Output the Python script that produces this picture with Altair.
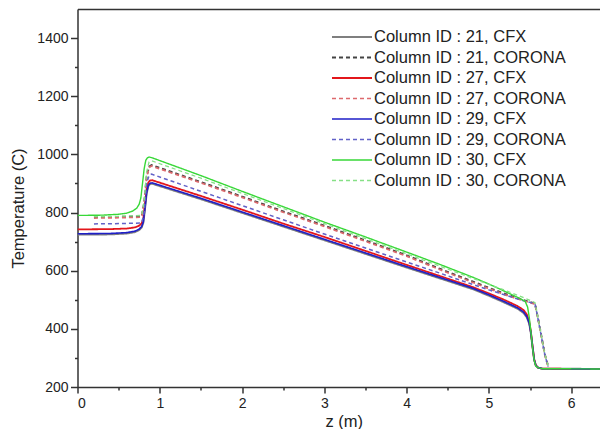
import altair as alt
import pandas as pd

FONT = "Liberation Sans"

series_names = [
    "Column ID : 21, CFX",
    "Column ID : 21, CORONA",
    "Column ID : 27, CFX",
    "Column ID : 27, CORONA",
    "Column ID : 29, CFX",
    "Column ID : 29, CORONA",
    "Column ID : 30, CFX",
    "Column ID : 30, CORONA",
]
series_colors = ["#7f7f7f", "#444444", "#e3161b", "#dd6a6d",
                 "#1f1fc8", "#6262c8", "#38d838", "#86e086"]
series_dash = [[1, 0], [4, 3], [1, 0], [4, 3], [1, 0], [4, 3], [1, 0], [4, 3]]
series_width = [2, 1.3, 2, 1.3, 2, 1.3, 2, 1.3]

# CFX z positions (m)
z_cfx = [0, 0.4, 0.6, 0.7, 0.75, 0.78, 0.8, 0.82, 0.84, 0.86, 0.88, 0.91,
         1.5, 2.0, 2.5, 3.0, 3.5, 4.0, 4.4, 4.8, 5.0, 5.2, 5.35, 5.42,
         5.46, 5.49, 5.51, 5.53, 5.55, 5.57, 5.6, 5.65, 6.35]
t_21_cfx = [724, 725, 728, 733, 740, 749, 765, 812, 865, 890, 898, 899,
            846, 799, 752, 705, 658, 611, 574, 537, 514, 489, 469, 455,
            440, 418, 385, 338, 294, 274, 266, 263, 262]
t_27_cfx = [742, 743, 745, 749, 755, 763, 780, 830, 880, 903, 910, 911,
            857, 810, 762, 716, 668, 620, 582, 544, 522, 498, 478, 465,
            450, 425, 390, 340, 295, 275, 266, 263, 262]
t_29_cfx = [727, 728, 731, 736, 743, 752, 768, 815, 868, 893, 901, 902,
            849, 802, 755, 708, 661, 614, 577, 540, 517, 492, 472, 458,
            443, 420, 387, 339, 294, 274, 266, 263, 262]

z_30_cfx = [0, 0.3, 0.5, 0.6, 0.67, 0.72, 0.75, 0.77, 0.79, 0.81, 0.83, 0.85,
            0.87, 0.9, 1.5, 2.0, 2.5, 3.0, 3.5, 4.0, 4.4, 4.8, 5.0, 5.2,
            5.35, 5.44, 5.47, 5.49, 5.51, 5.53, 5.55, 5.57, 5.6, 5.65, 6.35]
t_30_cfx = [790, 791, 794, 798, 805, 815, 829, 850, 900, 950, 980, 988,
            991, 989, 927, 873, 820, 767, 716, 664, 622, 578, 554, 528,
            508, 495, 475, 440, 390, 335, 292, 272, 266, 263, 262]

# CORONA z positions (m)
z_cor = [0.2, 0.5, 0.78, 0.81, 0.84, 0.87, 0.9, 1.5, 2.0, 2.5, 3.0, 3.5,
         4.0, 4.4, 4.8, 5.0, 5.2, 5.4, 5.5, 5.56, 5.6, 5.64, 5.68, 5.72]
t_21_cor = [784, 785, 787, 833, 923, 958, 963, 905, 855, 804, 755, 704,
            653, 607, 563, 541, 520, 501, 492, 487, 432, 372, 312, 272]
t_27_cor = [781, 782, 784, 830, 920, 955, 960, 902, 852, 801, 752, 701,
            650, 604, 560, 538, 517, 498, 490, 485, 430, 370, 310, 270]
t_29_cor = [761, 762, 764, 800, 900, 928, 932, 873, 824, 775, 726, 678,
            630, 592, 553, 534, 516, 498, 491, 486, 430, 370, 310, 270]
t_30_cor = [786, 787, 790, 840, 940, 974, 978, 918, 866, 814, 762, 710,
            658, 616, 574, 553, 532, 510, 498, 490, 432, 372, 312, 272]

x_major = [0, 1, 2, 3, 4, 5, 6]
x_minor = [0.5, 1.5, 2.5, 3.5, 4.5, 5.5]
y_major = [200, 400, 600, 800, 1000, 1200, 1400]
y_minor = [300, 500, 700, 900, 1100, 1300]

curves = [
    (series_names[0], z_cfx, t_21_cfx),
    (series_names[1], z_cor, t_21_cor),
    (series_names[2], z_cfx, t_27_cfx),
    (series_names[3], z_cor, t_27_cor),
    (series_names[4], z_cfx, t_29_cfx),
    (series_names[5], z_cor, t_29_cor),
    (series_names[6], z_30_cfx, t_30_cfx),
    (series_names[7], z_cor, t_30_cor),
]
rows = []
for name, zs, ts in curves:
    for z, t in zip(zs, ts):
        rows.append({"z": z, "T": t, "series": name})
df = pd.DataFrame(rows)

xscale = alt.Scale(domain=[0, 6.35], nice=False, zero=False)
yscale = alt.Scale(domain=[200, 1500], nice=False, zero=False)

axis_common = dict(
    domainColor="#333333", domainWidth=1.5, tickColor="#333333", tickWidth=1.5,
    labelFont=FONT, labelColor="#222222", labelFontSize=14, grid=False,
    titleFont=FONT, titleColor="#222222", titleFontWeight="normal",
)

legend_opts = dict(
    title=None, orient="none", legendX=253.5, legendY=18,
    symbolType="stroke", symbolSize=1600, symbolStrokeWidth=1.4,
    clipHeight=20, rowPadding=0.5, labelFontSize=16.5,
    labelFont=FONT, labelColor="#222222", labelOffset=1,
    padding=0, labelLimit=400,
)

lines = alt.Chart(df).mark_line(clip=True).encode(
    x=alt.X("z:Q", scale=xscale, axis=alt.Axis(
        orient="bottom", values=x_major, format="d", tickSize=6, labelPadding=3,
        title="z (m)", titleFontSize=16.5, titleX=266.3, titleY=34,
        titleBaseline="middle", titleAlign="center", **axis_common)),
    y=alt.Y("T:Q", scale=yscale, axis=alt.Axis(
        orient="left", values=y_major, format="d", tickSize=7, labelPadding=2.5,
        title="Temperature (C)", titleFontSize=16.5, titleX=-59.5, titleY=199,
        titleBaseline="middle", titleAlign="center", **axis_common)),
    color=alt.Color("series:N", scale=alt.Scale(domain=series_names, range=series_colors),
                    legend=alt.Legend(**legend_opts)),
    strokeDash=alt.StrokeDash("series:N", scale=alt.Scale(domain=series_names, range=series_dash),
                              legend=alt.Legend(**legend_opts)),
    strokeWidth=alt.StrokeWidth("series:N", scale=alt.Scale(domain=series_names, range=series_width),
                                legend=None),
)

minor = alt.Chart(df).mark_line(opacity=0).encode(
    x=alt.X("z:Q", scale=xscale, axis=alt.Axis(
        orient="bottom", values=x_minor, tickSize=3, labels=False, domain=False,
        title=None, tickColor="#333333", tickWidth=1.5, grid=False)),
    y=alt.Y("T:Q", scale=yscale, axis=alt.Axis(
        orient="left", values=y_minor, tickSize=3, labels=False, domain=False,
        title=None, tickColor="#333333", tickWidth=1.5, grid=False)),
)

top = alt.Chart(df).mark_line(opacity=0).encode(
    x=alt.X("z:Q", scale=xscale, axis=alt.Axis(
        orient="top", ticks=False, labels=False, domain=True, title=None,
        domainColor="#333333", domainWidth=1.5, grid=False)),
    y=alt.Y("T:Q", scale=yscale, axis=None),
)

chart = alt.layer(lines, minor, top).resolve_axis(
    x="independent", y="independent"
).properties(
    width=522.5, height=378,
    autosize=alt.AutoSizeParams(type="none"),
    padding={"left": 69.5, "top": 1, "right": 0, "bottom": 42},
    background="white",
).configure_view(stroke=None)

chart.save("out.html", embed_options={"renderer": "svg", "actions": False})
